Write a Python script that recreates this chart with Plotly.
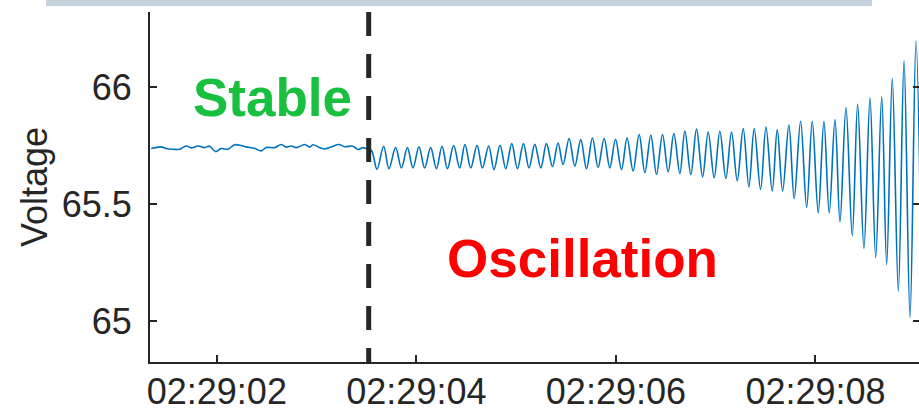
import pandas as pd
import plotly.graph_objects as go

BASE = "2024-01-01 02:29:00"

# time offsets (seconds after 02:29:00) and voltage readings
t_stable = [1.342, 1.442, 1.492, 1.559, 1.626, 1.693, 1.743, 1.810, 1.877, 1.927,
            1.987, 2.044, 2.111, 2.178, 2.244, 2.295, 2.378, 2.445, 2.495, 2.579,
            2.646, 2.696, 2.746, 2.796, 2.880, 2.930, 2.963, 3.030, 3.080, 3.147,
            3.224, 3.281, 3.364, 3.415, 3.465, 3.498, 3.549]
v_stable = [65.738, 65.745, 65.738, 65.735, 65.735, 65.749, 65.741, 65.749, 65.742, 65.748,
            65.725, 65.738, 65.735, 65.754, 65.751, 65.745, 65.739, 65.728, 65.742, 65.742,
            65.755, 65.744, 65.749, 65.742, 65.755, 65.744, 65.754, 65.742, 65.736, 65.745,
            65.755, 65.746, 65.748, 65.734, 65.742, 65.738, 65.730]

t_osc = [3.605, 3.672, 3.725, 3.792, 3.850, 3.910, 3.966, 4.026, 4.083, 4.143,
         4.201, 4.257, 4.311, 4.374, 4.434, 4.487, 4.545, 4.608, 4.662, 4.725,
         4.778, 4.839, 4.896, 4.956, 5.013, 5.073, 5.129, 5.187, 5.247, 5.304,
         5.364, 5.420, 5.470, 5.531, 5.588, 5.648, 5.705, 5.765, 5.821, 5.882,
         5.939, 5.996, 6.056, 6.112, 6.172, 6.233, 6.290, 6.350, 6.407, 6.467,
         6.524, 6.581, 6.641, 6.691, 6.751, 6.808, 6.869, 6.925, 6.985, 7.042,
         7.102, 7.159, 7.216, 7.276, 7.333, 7.386, 7.450, 7.504, 7.567, 7.617,
         7.671, 7.734, 7.787, 7.851, 7.912, 7.968, 8.028, 8.085, 8.138, 8.196,
         8.246, 8.306, 8.369, 8.423, 8.486, 8.547, 8.604, 8.664, 8.714, 8.770,
         8.831, 8.888, 8.948, 9.008, 9.068]
v_osc = [65.650, 65.748, 65.652, 65.742, 65.655, 65.742, 65.655, 65.745, 65.655, 65.742,
         65.652, 65.748, 65.652, 65.751, 65.655, 65.755, 65.655, 65.752, 65.655, 65.749,
         65.648, 65.752, 65.652, 65.759, 65.652, 65.759, 65.655, 65.756, 65.655, 65.759,
         65.661, 65.762, 65.670, 65.781, 65.662, 65.776, 65.652, 65.783, 65.657, 65.781,
         65.655, 65.778, 65.648, 65.783, 65.642, 65.798, 65.635, 65.795, 65.628, 65.798,
         65.638, 65.802, 65.631, 65.813, 65.627, 65.821, 65.617, 65.809, 65.613, 65.812,
         65.610, 65.809, 65.600, 65.823, 65.574, 65.823, 65.563, 65.830, 65.556, 65.819,
         65.556, 65.838, 65.524, 65.855, 65.486, 65.855, 65.463, 65.855, 65.463, 65.862,
         65.424, 65.913, 65.365, 65.927, 65.311, 65.954, 65.272, 65.959, 65.242, 66.037,
         65.128, 66.113, 65.016, 66.198, 64.950]

x_tick_sec = [2, 4, 6, 8]
y_ticks = [65, 65.5, 66]
event_sec = 3.522
x_range_sec = [1.330, 9.038]
y_range = [64.825, 66.322]

def ts(sec):
    return pd.Timestamp(BASE) + pd.to_timedelta(sec, unit="s")

def tss(sec):
    return ts(sec).strftime("%Y-%m-%d %H:%M:%S.%f")

t_all = [ts(s) for s in t_stable + t_osc]
v_all = v_stable + v_osc

FONT = "Liberation Sans, Arial, sans-serif"
AX = "#262626"
TICK_SIZE = 36

fig = go.Figure()
fig.add_trace(go.Scatter(x=t_all, y=v_all, mode="lines",
                         line=dict(color="#0072BD", width=1.6, shape="spline", smoothing=1),
                         showlegend=False, hoverinfo="skip"))
fig.add_trace(go.Scatter(x=[ts(x_range_sec[0])], y=[None], yaxis="y2",
                         mode="lines", showlegend=False, hoverinfo="skip"))

fig.add_shape(type="line", xref="x", yref="paper",
              x0=tss(event_sec), x1=tss(event_sec), y0=1, y1=0,
              line=dict(color=AX, width=5, dash="24px,18px"))

# light header bar at top (cropped box)
fig.add_shape(type="rect", xref="paper", yref="paper",
              x0=(46 - 150) / 769, x1=(872 - 150) / 769, y0=1 + 6 / 350, y1=1 + 13 / 350,
              line=dict(width=0), fillcolor="#c6d1de", layer="above")

fig.add_annotation(x=tss(2.559), y=65.957, text="<b>Stable</b>", showarrow=False,
                   font=dict(family=FONT, size=53, color="#19bf3f"),
                   xanchor="center", yanchor="middle")
fig.add_annotation(x=tss(5.663), y=65.269, text="<b>Oscillation</b>", showarrow=False,
                   font=dict(family=FONT, size=53, color="#ff0000"),
                   xanchor="center", yanchor="middle")
fig.add_annotation(xref="paper", yref="paper", x=(34 - 150) / 769, y=0.5,
                   text="Voltage", textangle=-90, showarrow=False,
                   font=dict(family=FONT, size=36, color=AX),
                   xanchor="center", yanchor="middle")

fig.update_layout(
    width=919, height=417,
    margin=dict(l=150, r=0, t=12, b=55),
    paper_bgcolor="white", plot_bgcolor="white",
    font=dict(family=FONT, size=TICK_SIZE, color=AX),
    xaxis=dict(type="date", range=[tss(x_range_sec[0]), tss(x_range_sec[1])],
               tickvals=[tss(s) for s in x_tick_sec], tickformat="%H:%M:%S",
               ticks="inside", ticklen=7, tickwidth=2, tickcolor=AX,
               showline=True, linecolor=AX, linewidth=2, showgrid=False, zeroline=False,
               tickfont=dict(family=FONT, size=TICK_SIZE, color=AX), ticklabelstandoff=-3),
    yaxis=dict(range=y_range, tickvals=y_ticks,
               ticks="inside", ticklen=7, tickwidth=2, tickcolor=AX,
               showline=True, linecolor=AX, linewidth=2, showgrid=False, zeroline=False,
               tickfont=dict(family=FONT, size=TICK_SIZE, color=AX), ticklabelstandoff=9),
    yaxis2=dict(range=y_range, tickvals=y_ticks, overlaying="y", side="right",
                ticks="inside", ticklen=6, tickwidth=2, tickcolor=AX,
                showline=False, showgrid=False, zeroline=False, showticklabels=False),
)

fig.write_html("out.html", config={"displayModeBar": False},
               post_script="document.body.style.margin='0';document.body.style.overflow='hidden';")
